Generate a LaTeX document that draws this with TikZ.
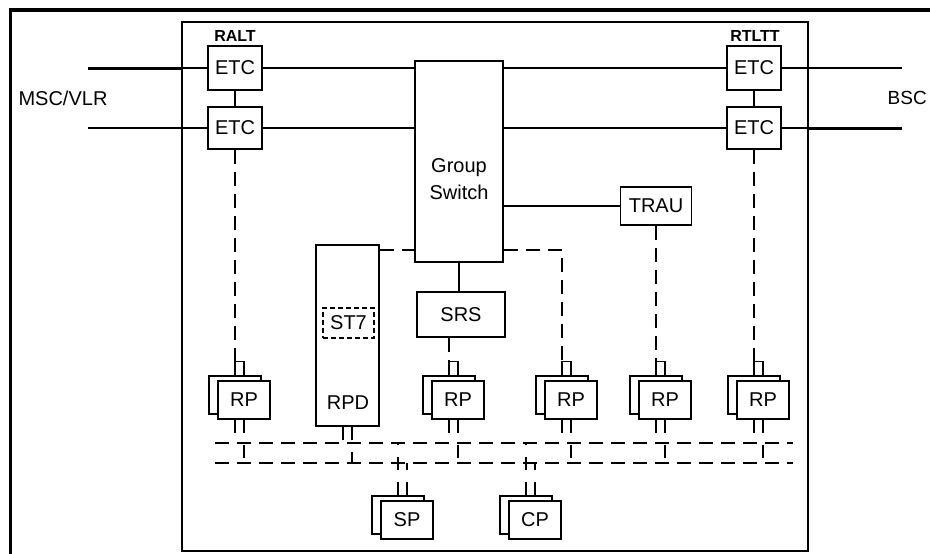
\documentclass[tikz,border=0pt]{standalone}
\usepackage{fontspec}
\setmainfont{Liberation Sans}
\usetikzlibrary{calc}
\begin{document}
\begin{tikzpicture}[x=1pt,y=-1pt,
  font=\fontsize{20}{24}\selectfont,
  box/.style={draw,line width=1.5pt,fill=white,inner sep=0pt},
  etcbox/.style={box,minimum width=54pt,minimum height=44pt},
  rpf/.style={box,minimum width=52pt,minimum height=38pt},
  rpb/.style={box,minimum width=52pt,minimum height=38pt},
  ln/.style={line width=1.4pt},
  thk/.style={line width=3pt},
  dl/.style={line width=1.5pt,dash pattern=on 14pt off 8pt},
  leg/.style={line width=1.4pt,dash pattern=on 13pt off 12pt},
  bus/.style={line width=1.6pt,dash pattern=on 14pt off 8pt},
  lbl/.style={inner sep=0pt,font=\fontsize{16}{18}\selectfont\bfseries}
]
\useasboundingbox (0,0) rectangle (930,554);
\fill[white] (0,0) rectangle (930,554);
% frames
\draw[line width=3pt] (10,560) -- (10,10);
\draw[line width=4pt] (8.5,10) -- (935,10);
\draw[line width=1.5pt] (182,22) rectangle (808,551);
% coordinates
\coordinate (mscA) at (88,68);
\coordinate (mscB) at (88,128);
\coordinate (bscA) at (902,68);
\coordinate (bscB) at (902,128);
\coordinate (inl) at (182,0);
\coordinate (inr) at (808,0);
\coordinate (b1) at (0,443);
\coordinate (b2) at (0,463);
\coordinate (ctl) at (0,250);
\coordinate (bl) at (215,0);
\coordinate (br) at (793,0);
% nodes
\node[etcbox] (etc1) at (235,68) {ETC};
\node[etcbox,minimum height=42pt] (etc2) at (235,128) {ETC};
\node[etcbox] (etc3) at (754,68) {ETC};
\node[etcbox,minimum height=42pt] (etc4) at (754,128) {ETC};
\node[lbl] (ralt) at (235,36) {RALT};
\node[lbl] (rtltt) at (755,36) {RTLTT};
\node (msc) at (63,98) {MSC/VLR};
\node[anchor=east,inner sep=0pt,font=\fontsize{19}{23}\selectfont] (bsc) at (927,98) {BSC};
\node[box,minimum width=88pt,minimum height=201pt] (gs) at (459,161.5) {};
\node[align=center,inner sep=0pt,font=\fontsize{20}{27}\selectfont] (gst) at (459,179) {Group\\Switch};
\node[box,minimum width=71pt,minimum height=38pt] (trau) at (656,206) {TRAU};
\node[box,minimum width=88pt,minimum height=45pt] (srs) at (461,314.5) {SRS};
\node[box,minimum width=63pt,minimum height=181pt] (rpd) at (347.5,335.5) {};
\node[inner sep=0pt] (rpdt) at (348,403) {RPD};
\node[draw,line width=1.8pt,dash pattern=on 5pt off 3pt,minimum width=51pt,minimum height=30pt,inner sep=0pt] (st7) at (348.5,323) {ST7};
\foreach \c/\n in {244/1,458/2,571/3,665/4,763/5} {
  \node[rpb] (rpb\n) at (\c-9,395) {};
  \node[rpf] (rp\n) at (\c,400) {RP};
  \coordinate (p\n) at ($(rpb\n.north)+(0,-14)$);
  \draw[ln] (rpb\n.north) -- (p\n) -| (rpb\n.north -| rp\n.north);
  \draw[leg] (rp\n.south -| rpb\n.south) -- (rpb\n.south |- b1);
  \draw[leg] (rp\n.south) -- (rp\n.south |- b2);
}
\node[rpb] (spb) at (398,515) {};
\node[rpf] (sp) at (407,520) {SP};
\node[rpb] (cpb) at (526,515) {};
\node[rpf] (cp) at (535,520) {CP};
% solid connectors
\draw[thk] (mscA) -- (mscA -| inl);
\draw[ln] (mscA -| inl) -- (etc1.west);
\draw[ln] (mscB) -- (etc2.west);
\draw[ln] (etc1.south) -- (etc2.north);
\draw[ln] (etc1.east) -- (etc1.east -| gs.west);
\draw[ln] (etc2.east) -- (etc2.east -| gs.west);
\draw[ln] (gs.east |- etc3) -- (etc3.west);
\draw[ln] (gs.east |- etc4) -- (etc4.west);
\draw[ln] (etc3.east) -- (bscA);
\draw[ln] (etc4.east) -- (etc4.east -| inr);
\draw[thk] (etc4.east -| inr) -- (bscB);
\draw[ln] (etc3.south) -- (etc4.north);
\draw[ln] (gs.east |- trau) -- (trau.west);
\draw[ln] (gs.south) -- (gs.south |- srs.north);
% dashed connectors
\draw[dl] (etc2.south) -- (etc2.south |- p1);
\draw[dl,line width=1.2pt] (srs.south -| p2) -- (p2);
\draw[dl] (rpd.east |- ctl) -- (gs.west |- ctl);
\draw[dl] (gs.east |- ctl) -| (p3);
\draw[dl] (trau.south -| p4) -- (p4);
\draw[dl] (etc4.south -| p5) -- (p5);
% RPD legs
\draw[leg] ($(rpd.south)+(-4.5,0)$) coordinate (q1) -- (q1 |- b1);
\draw[leg] ($(rpd.south)+(4.5,0)$) coordinate (q2) -- (q2 |- b2);
% SP / CP legs
\draw[leg] (spb.north) -- (spb.north |- b1);
\draw[leg] (spb.north -| sp.north) -- (sp.north |- b2);
\draw[leg] (cpb.north) -- (cpb.north |- b1);
\draw[leg] (cpb.north -| cp.north) -- (cp.north |- b2);
% buses
\draw[bus] (b1 -| bl) -- (b1 -| br);
\draw[bus] (b2 -| bl) -- (b2 -| br);
\end{tikzpicture}
\end{document}
